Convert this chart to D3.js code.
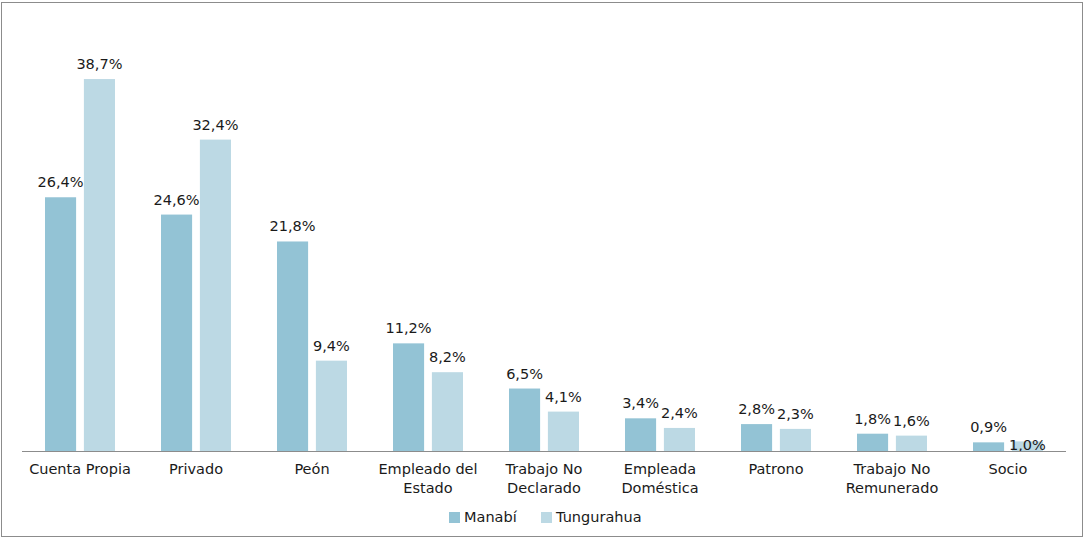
<!DOCTYPE html>
<html><head><meta charset="utf-8">
<script src="https://cdn.jsdelivr.net/npm/d3@7"></script>
<style>
html,body{margin:0;padding:0;background:#fff;}
text{font-family:"DejaVu Sans",Verdana,sans-serif;fill:#1a1a1a;}
</style></head>
<body>
<svg id="chart" width="1085" height="538"></svg>
<script>
const categories = [["Cuenta Propia"],["Privado"],["Peón"],["Empleado del","Estado"],["Trabajo No","Declarado"],["Empleada","Doméstica"],["Patrono"],["Trabajo No","Remunerado"],["Socio"]];
const seriesNames = ["Manabí","Tungurahua"];
const manabi = [26.4, 24.6, 21.8, 11.2, 6.5, 3.4, 2.8, 1.8, 0.9];
const tungurahua = [38.7, 32.4, 9.4, 8.2, 4.1, 2.4, 2.3, 1.6, 1.0];
const colors = ["#93c3d5","#bcd9e4"];
const FS = 14.5;

const svg = d3.select("#chart");
svg.append("rect").attr("x",1.5).attr("y",2.5).attr("width",1081).attr("height",534)
  .attr("fill","none").attr("stroke","#8c8c8c").attr("stroke-width",1);

const x0 = d3.scaleBand().domain(d3.range(categories.length)).range([22,1066]);
const x1 = d3.scaleBand().domain([0,1]).range([23, 93]).paddingInner(0.2);
const y = d3.scaleLinear().domain([0,45]).range([451,18.5]);

const series = [manabi, tungurahua];
series.forEach((vals, s) => {
  const g = svg.append("g");
  g.selectAll("rect").data(vals).join("rect")
    .attr("x",(d,i)=>x0(i)+x1(s))
    .attr("width",x1.bandwidth())
    .attr("y",d=>y(d))
    .attr("height",d=>y(0)-y(d))
    .attr("fill",colors[s]);
});
series.forEach((vals, s) => {
  svg.append("g").selectAll("text").data(vals).join("text")
    .attr("x",(d,i)=>x0(i)+x1(s)+x1.bandwidth()/2)
    .attr("y",(d,i)=> (s===1 && i===8) ? y(0)-1 : y(d)-10)
    .attr("text-anchor","middle")
    .attr("font-size",FS)
    .text(d=>d3.format(".1f")(d).replace(".",",")+"%");
});

svg.append("line").attr("x1",22).attr("x2",1066).attr("y1",451.5).attr("y2",451.5)
  .attr("stroke","#8c8c8c").attr("stroke-width",1);

const xl = svg.append("g");
categories.forEach((lines,i)=>{
  const t = xl.append("text").attr("x",x0(i)+x0.bandwidth()/2).attr("y",474)
    .attr("text-anchor","middle").attr("font-size",FS);
  lines.forEach((ln,j)=>t.append("tspan").attr("x",x0(i)+x0.bandwidth()/2).attr("dy",j?19:0).text(ln));
});

const leg = svg.append("g");
const legX = [449, 541];
seriesNames.forEach((n,s)=>{
  leg.append("rect").attr("x",legX[s]).attr("y",512).attr("width",11).attr("height",11).attr("fill",colors[s]);
  leg.append("text").attr("x",legX[s]+15).attr("y",522).attr("font-size",FS).text(n);
});
</script>
</body></html>
